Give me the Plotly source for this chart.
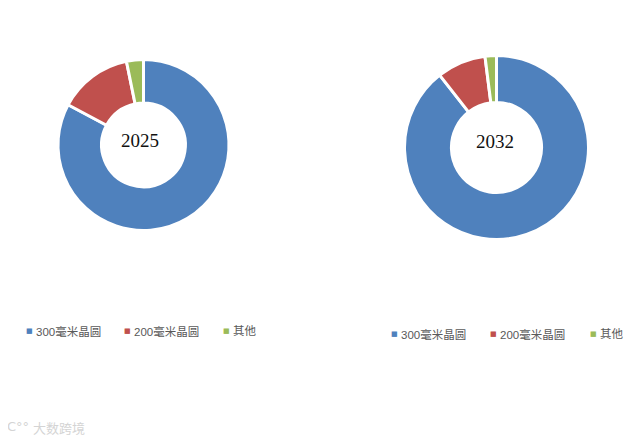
import plotly.graph_objects as go

categories = ["300毫米晶圆", "200毫米晶圆", "其他"]
values_2025 = [82.8, 14.0, 3.2]
values_2032 = [89.4, 8.6, 2.0]
years = ["2025", "2032"]
colors = ["#4F81BD", "#C0504D", "#9BBB59"]
legend_text_x_left = [34, 132, 231]
legend_text_x_right = [399, 498, 598]

# The page adds an 8 px body margin above and left of the figure.
PAGE_M = 8
W, H = 643 - PAGE_M, 440 - PAGE_M


def px(x):
    return (x - PAGE_M) / W


def py(y):
    return 1 - (y - PAGE_M) / H


def dom(cx, cy, r):
    return dict(x=[px(cx - r), px(cx + r)], y=[py(cy + r), py(cy - r)])


fig = go.Figure()
for vals, d in [(values_2025, dom(143.5, 145, 85.5)), (values_2032, dom(496.5, 147.5, 92))]:
    fig.add_trace(go.Pie(labels=categories, values=vals, hole=0.49, sort=False,
                         direction="clockwise", rotation=0, textinfo="none", showlegend=False,
                         marker=dict(colors=colors, line=dict(color="white", width=3)),
                         domain=d))

annotations = [
    dict(text=years[0], x=px(140), y=py(140), xref="paper", yref="paper", showarrow=False,
         xanchor="center", yanchor="middle",
         font=dict(family="Liberation Serif", size=19, color="#111111")),
    dict(text=years[1], x=px(494.5), y=py(141), xref="paper", yref="paper", showarrow=False,
         xanchor="center", yanchor="middle",
         font=dict(family="Liberation Serif", size=19, color="#111111")),
    dict(text="大数跨境", x=px(31), y=py(427), xref="paper", yref="paper", showarrow=False,
         xanchor="left", yanchor="middle",
         font=dict(family="Noto Sans CJK SC", size=13, color="#d4d4d4")),
    dict(text="C°°", x=px(5), y=py(426), xref="paper", yref="paper", showarrow=False,
         xanchor="left", yanchor="middle",
         font=dict(family="DejaVu Sans", size=13, color="#d4d4d4")),
]
for xs, yc in [(legend_text_x_left, 331), (legend_text_x_right, 334)]:
    for label, col, x0 in zip(categories, colors, xs):
        annotations.append(dict(text=label, x=px(x0), y=py(yc), xref="paper", yref="paper",
                                showarrow=False, xanchor="left", yanchor="middle",
                                font=dict(family="Liberation Sans, Noto Sans CJK SC", size=11.5, color="#595959")))
        annotations.append(dict(text="■", x=px(x0 - 5), y=py(yc), xref="paper", yref="paper",
                                showarrow=False, xanchor="center", yanchor="middle",
                                font=dict(family="DejaVu Sans", size=7, color=col)))

fig.update_layout(
    width=W, height=H, margin=dict(l=0, r=0, t=0, b=0),
    paper_bgcolor="white", plot_bgcolor="white",
    annotations=annotations,
)
fig.write_html("out.html")
